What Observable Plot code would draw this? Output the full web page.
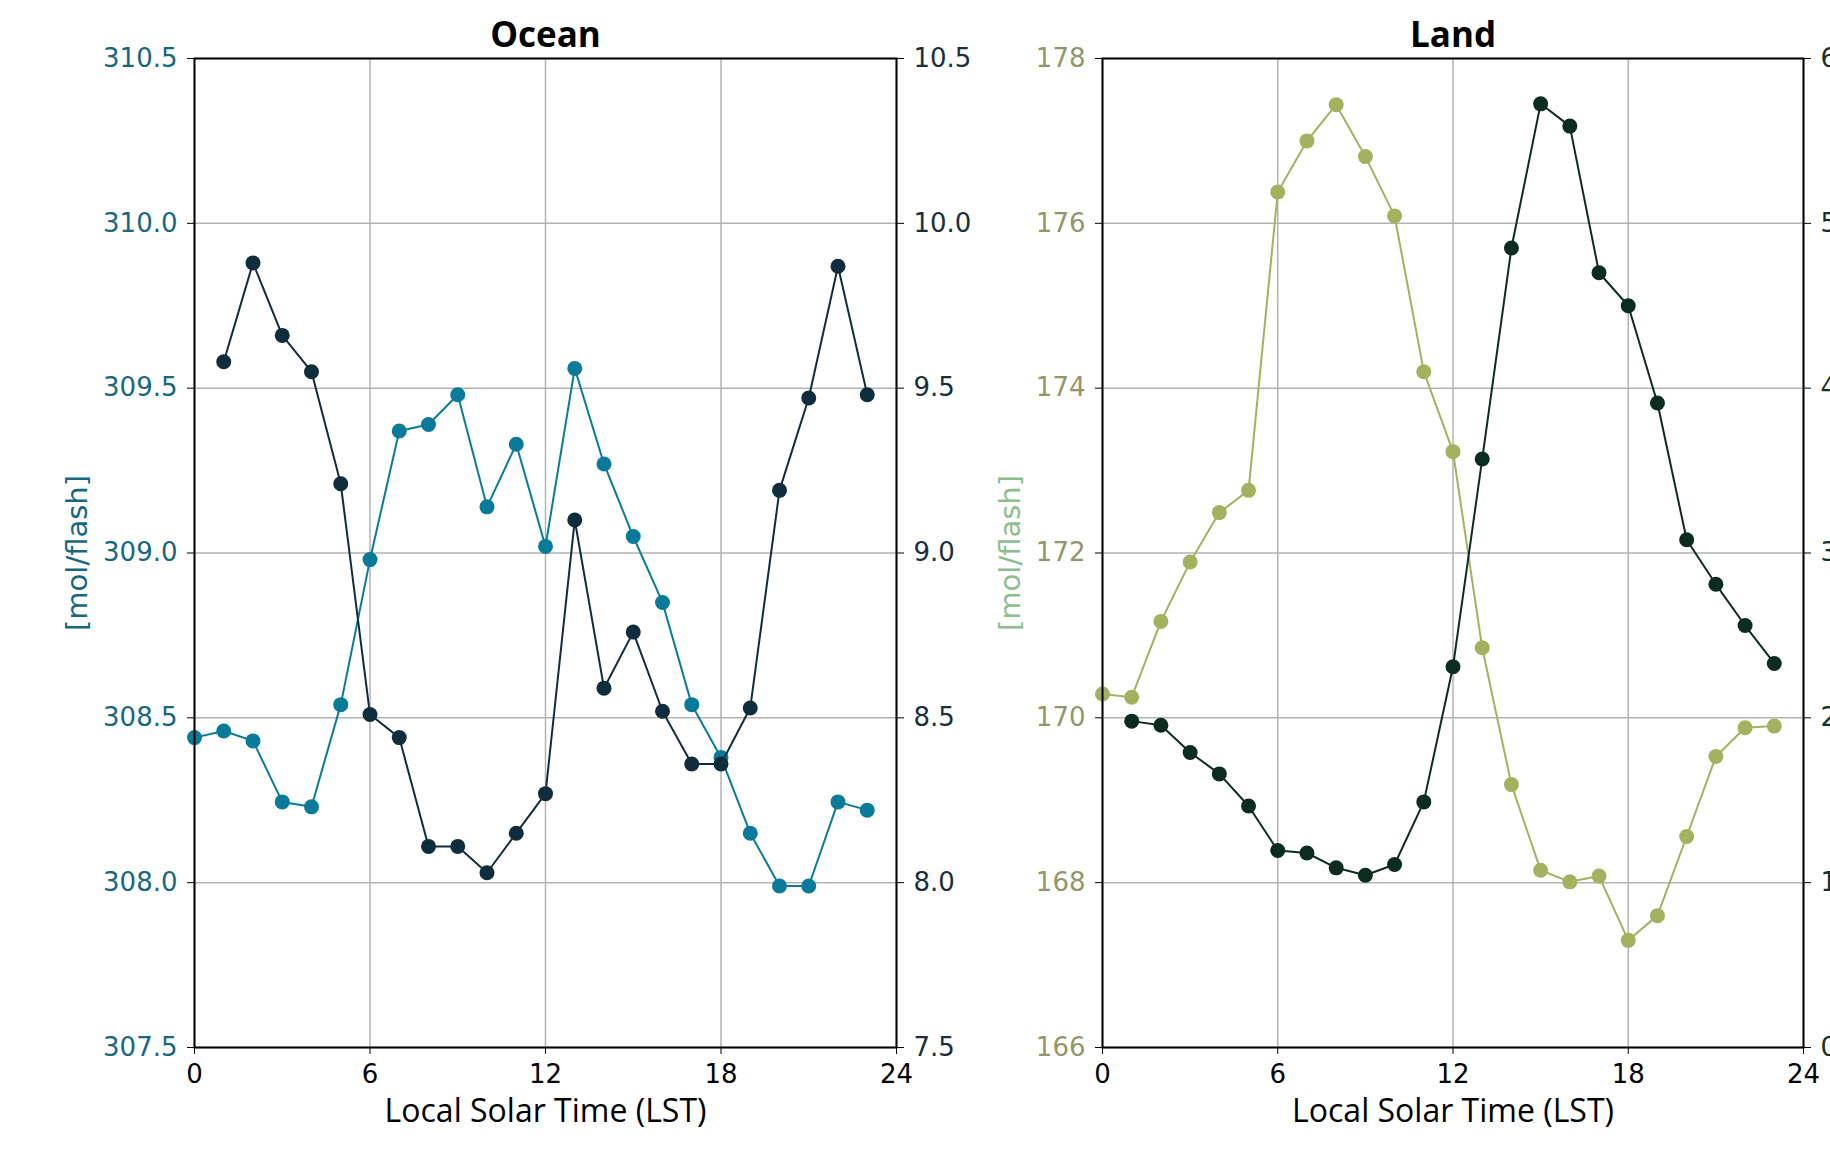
<!DOCTYPE html>
<html><head><meta charset="utf-8">
<script src="https://cdn.jsdelivr.net/npm/d3@7"></script>
<script src="https://cdn.jsdelivr.net/npm/@observablehq/plot@0.6"></script>
<style>
html,body{margin:0;padding:0;background:#fff;overflow:hidden;width:1830px;height:1173px}
#wrap{position:relative;width:1830px;height:1173px;overflow:hidden}
#wrap svg{position:absolute;top:0;overflow:visible;max-width:none}
</style></head><body><div id="wrap"></div>
<script>
const hours = [0,1,2,3,4,5,6,7,8,9,10,11,12,13,14,15,16,17,18,19,20,21,22,23];
const oceanLeft = [308.44, 308.46, 308.43, 308.245, 308.23, 308.54, 308.98, 309.37, 309.39, 309.48, 309.14, 309.33, 309.02, 309.56, 309.27, 309.05, 308.85, 308.54, 308.38, 308.15, 307.99, 307.99, 308.245, 308.22];
const oceanRight = [null, 9.58, 9.88, 9.66, 9.55, 9.21, 8.51, 8.44, 8.11, 8.11, 8.03, 8.15, 8.27, 9.10, 8.59, 8.76, 8.52, 8.36, 8.36, 8.53, 9.19, 9.47, 9.87, 9.48];
const landLeft = [170.29, 170.25, 171.17, 171.89, 172.49, 172.76, 176.38, 177.0, 177.44, 176.81, 176.09, 174.2, 173.23, 170.85, 169.19, 168.15, 168.01, 168.08, 167.3, 167.6, 168.56, 169.53, 169.88, 169.9];
const landRight = [null, 1.98, 1.955, 1.79, 1.66, 1.465, 1.195, 1.18, 1.09, 1.045, 1.11, 1.49, 2.31, 3.57, 4.85, 5.725, 5.59, 4.70, 4.50, 3.91, 3.08, 2.81, 2.56, 2.33];
const xTicks = [0, 6, 12, 18, 24];
const oceanLeftTicks = [307.5, 308.0, 308.5, 309.0, 309.5, 310.0, 310.5];
const oceanRightTicks = [7.5, 8.0, 8.5, 9.0, 9.5, 10.0, 10.5];
const landLeftTicks = [166, 168, 170, 172, 174, 176, 178];
const landRightTicks = [0, 1, 2, 3, 4, 5, 6];
const titles = ["Ocean", "Land"];
const xLabel = "Local Solar Time (LST)";
const yLabel = "[mol/flash]";

const W = 915, H = 1173, MT = 58, MB = 126;
const wrap = document.getElementById("wrap");

function panel(cfg) {
  const leftData = hours.map((h, i) => ({h, v: cfg.leftVals[i]}));
  const rightData = hours.map((h, i) => ({h, v: cfg.rightVals[i]}));
  const common = {
    width: W, height: H, marginLeft: cfg.ml, marginRight: cfg.mr, marginTop: MT, marginBottom: MB,
    style: {fontFamily: "DejaVu Sans", fontSize: "26px", background: "transparent", overflow: "visible", maxWidth: "none"}
  };
  const base = Plot.plot({
    ...common,
    x: {domain: [0, 24]},
    y: {domain: [cfg.leftTicks[0], cfg.leftTicks[cfg.leftTicks.length - 1]]},
    marks: [
      Plot.gridX(xTicks, {stroke: "#b3b3b3", strokeOpacity: 1, strokeWidth: 1.5}),
      Plot.gridY(cfg.leftTicks, {stroke: "#b3b3b3", strokeOpacity: 1, strokeWidth: 1.5}),
      Plot.axisX({ticks: xTicks, tickSize: 7, tickPadding: 10, stroke: "black", fill: "black", label: null, tickFormat: d => String(d)}),
      Plot.axisY({ticks: cfg.leftTicks, anchor: "left", tickSize: 7, tickPadding: 10, stroke: "black", fill: cfg.leftTickColor, label: null, tickFormat: cfg.leftFmt}),
      Plot.line(leftData, {x: "h", y: "v", stroke: cfg.leftColor, strokeWidth: 2}),
      Plot.dot(leftData, {x: "h", y: "v", r: 7.5, fill: cfg.leftColor, stroke: "none"}),
      Plot.frame({stroke: "black", strokeWidth: 2}),
      Plot.text([cfg.title], {text: d => d, frameAnchor: "top", lineAnchor: "middle", textAnchor: "middle", dy: -23, fontFamily: "Open Sans", fontWeight: "bold", fontSize: 35, fill: "black"}),
      Plot.text([xLabel], {text: d => d, frameAnchor: "bottom", lineAnchor: "middle", textAnchor: "middle", dy: 64, fontFamily: "Open Sans", fontSize: 32, fill: "black"}),
      Plot.text([yLabel], {text: d => d, frameAnchor: "left", lineAnchor: "middle", textAnchor: "middle", dx: cfg.labelDx, rotate: -90, fontSize: 29, fill: cfg.labelColor})
    ]
  });
  const over = Plot.plot({
    ...common,
    x: {domain: [0, 24], axis: null},
    y: {domain: [cfg.rightTicks[0], cfg.rightTicks[cfg.rightTicks.length - 1]]},
    marks: [
      Plot.axisY({ticks: cfg.rightTicks, anchor: "right", tickSize: 7, tickPadding: 10, stroke: "black", fill: cfg.rightTickColor, label: null, tickFormat: cfg.rightFmt}),
      Plot.line(rightData, {x: "h", y: "v", stroke: cfg.rightColor, strokeWidth: 2}),
      Plot.dot(rightData, {x: "h", y: "v", r: 7.5, fill: cfg.rightColor, stroke: "none"})
    ]
  });
  base.style.left = cfg.left + "px";
  over.style.left = cfg.left + "px";
  wrap.appendChild(base);
  wrap.appendChild(over);
}

panel({
  left: 0, ml: 194, mr: 19, title: titles[0],
  leftVals: oceanLeft, rightVals: oceanRight,
  leftTicks: oceanLeftTicks, rightTicks: oceanRightTicks,
  leftFmt: d3.format(".1f"), rightFmt: d3.format(".1f"),
  leftColor: "#0a7a9a", rightColor: "#0f2d3c",
  leftTickColor: "#17677f", rightTickColor: "#1a2f3d",
  labelColor: "#17677f", labelDx: -117
});
panel({
  left: 915, ml: 187, mr: 27, title: titles[1],
  leftVals: landLeft, rightVals: landRight,
  leftTicks: landLeftTicks, rightTicks: landRightTicks,
  leftFmt: d3.format("d"), rightFmt: d3.format("d"),
  leftColor: "#a3b25e", rightColor: "#0b2c1f",
  leftTickColor: "#93966b", rightTickColor: "#17302a",
  labelColor: "#8dbe8d", labelDx: -92
});
</script></body></html>
